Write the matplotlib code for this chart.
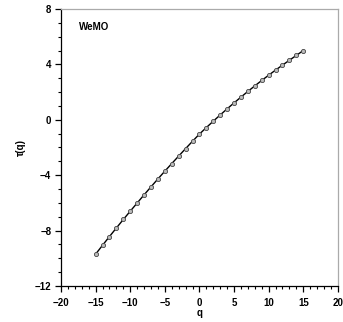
import matplotlib
matplotlib.use("Agg")
import matplotlib.pyplot as plt
from matplotlib.ticker import MultipleLocator

q = list(range(-15, 16))
tau = [-9.70, -9.06, -8.43, -7.81, -7.20, -6.60, -6.01, -5.42, -4.84, -4.27,
       -3.71, -3.16, -2.62, -2.08, -1.55, -1.03, -0.56, -0.10, 0.35, 0.79,
       1.22, 1.64, 2.05, 2.45, 2.84, 3.22, 3.59, 3.95, 4.30, 4.65, 5.00]

plt.rcParams["font.family"] = ["Liberation Sans", "DejaVu Sans"]
plt.rcParams["font.weight"] = "bold"

fig = plt.figure(figsize=(3.43, 3.22), dpi=100)
ax = fig.add_axes([0.178, 0.112, 0.807, 0.860])

ax.plot(q, tau, color="black", lw=1.0, marker="o", ms=3.0,
        mfc="#bbbbbb", mec="#444444", mew=0.6)

ax.set_xlim(-20, 20)
ax.set_ylim(-12, 8)
ax.xaxis.set_major_locator(MultipleLocator(5))
ax.xaxis.set_minor_locator(MultipleLocator(1))
ax.yaxis.set_major_locator(MultipleLocator(4))
ax.yaxis.set_minor_locator(MultipleLocator(1))
ax.tick_params(which="major", direction="out", length=4, width=0.9, labelsize=7)
ax.tick_params(axis="x", which="major", pad=5)
ax.tick_params(axis="y", which="major", pad=3)
ax.tick_params(which="minor", direction="out", length=2.5, width=0.8)
for lbl in ax.get_xticklabels() + ax.get_yticklabels():
    lbl.set_fontweight("bold")

for s in ["left", "bottom"]:
    ax.spines[s].set_color("black")
    ax.spines[s].set_linewidth(0.9)
for s in ["top", "right"]:
    ax.spines[s].set_color("#aaaaaa")
    ax.spines[s].set_linewidth(0.9)

ax.set_xlabel("q", fontsize=7, fontweight="bold", labelpad=0)
ax.set_ylabel("τ(q)", fontsize=7, fontweight="bold", labelpad=6)
ax.text(-17.4, 6.7, "WeMO", fontsize=7, fontweight="bold", va="center")

fig.savefig("out.png", dpi=100)
